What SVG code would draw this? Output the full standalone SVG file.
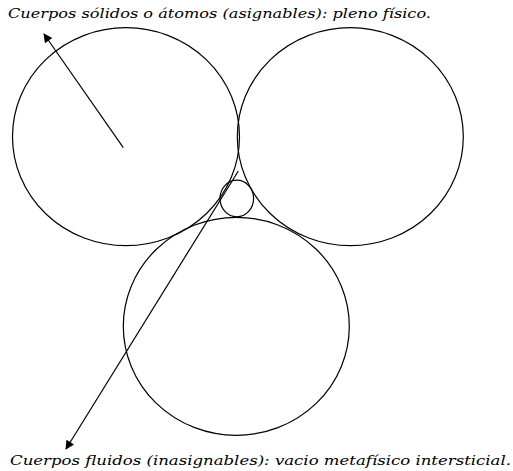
<svg xmlns="http://www.w3.org/2000/svg" width="513" height="471" viewBox="0 0 513 471">
<style>
.c{fill:none;stroke:#000;stroke-width:1.2}
.a{stroke:#000;stroke-width:1.2;fill:none}
.t{font-family:'DejaVu Serif','Liberation Serif',serif;font-style:italic;font-size:13.5px;fill:#000}
</style>
<defs>
<marker id="ah" viewBox="0 0 10 10" refX="9" refY="5" markerWidth="11" markerHeight="9" markerUnits="userSpaceOnUse" orient="auto">
<path d="M0,0 L10,5 L0,10 z" fill="#000"/>
</marker>
</defs>
<rect width="513" height="471" fill="#fff"/>
<g id="left-circle"><ellipse class="c" cx="126" cy="136.7" rx="113.5" ry="109"/></g>
<g id="right-circle"><ellipse class="c" cx="350.3" cy="136.7" rx="113" ry="109"/></g>
<g id="bottom-circle"><ellipse class="c" cx="236.3" cy="326.3" rx="113" ry="109"/></g>
<g id="small-circle"><ellipse class="c" cx="236.8" cy="198.5" rx="16.8" ry="18.3"/></g>
<g id="connectors">
<line class="a" x1="123.3" y1="147.7" x2="44" y2="34" marker-end="url(#ah)"/>
<line class="a" x1="238.3" y1="171" x2="66" y2="449" marker-end="url(#ah)"/>
</g>
<g id="label-top"><text class="t" x="8" y="18" textLength="423" lengthAdjust="spacingAndGlyphs">Cuerpos sólidos o átomos (asignables): pleno físico.</text></g>
<g id="label-bottom"><text class="t" x="10" y="465" textLength="501" lengthAdjust="spacingAndGlyphs">Cuerpos fluidos (inasignables): vacio metafísico intersticial.</text></g>
</svg>
